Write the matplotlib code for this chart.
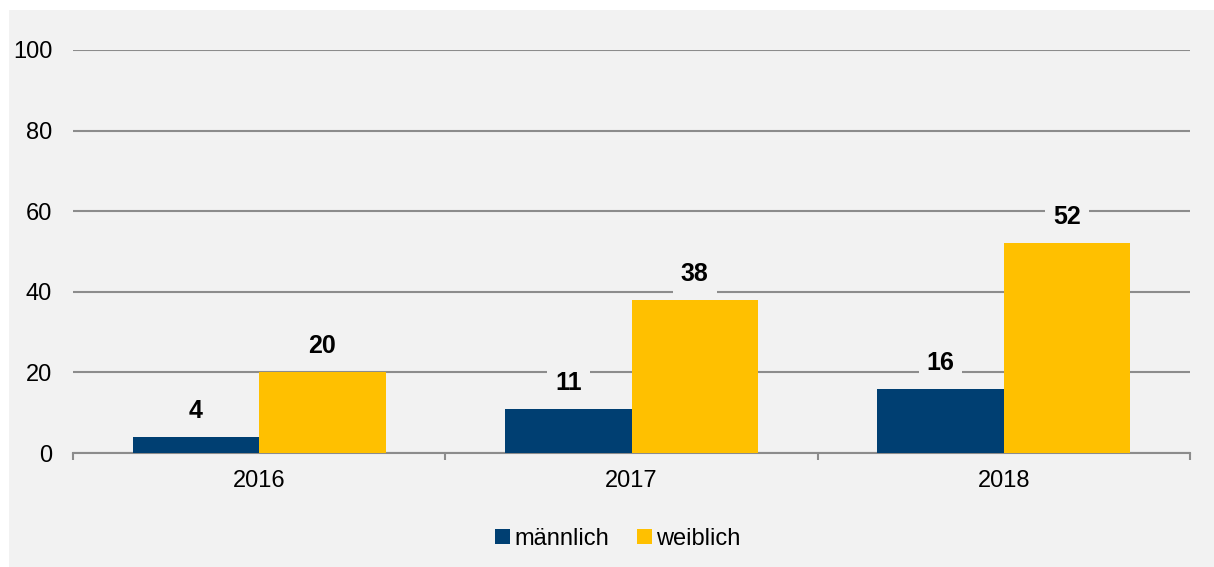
import matplotlib
matplotlib.use("Agg")
import matplotlib.pyplot as plt
from matplotlib.patches import Rectangle
import numpy as np

years = ["2016", "2017", "2018"]
maennlich = [4, 11, 16]
weiblich = [20, 38, 52]
series_names = ["männlich", "weiblich"]
colors = ["#003f72", "#ffc000"]
yticks = [0, 20, 40, 60, 80, 100]

plt.rcParams['font.family'] = ['Liberation Sans', 'DejaVu Sans']

fig = plt.figure(figsize=(12.14, 5.67), dpi=100)
fig.patch.set_facecolor("white")
bg = Rectangle((9/1214, 0), 1 - 9/1214, 1 - 10/567, transform=fig.transFigure,
               facecolor="#f2f2f2", edgecolor="none", zorder=-10)
fig.add_artist(bg)

ax = fig.add_axes([73/1214, 1 - 453/567, (1190 - 73)/1214, (453 - 50)/567])
ax.set_facecolor("none")
ax.set_zorder(1)

x = np.arange(len(years))
w = 0.34
b1 = ax.bar(x - w/2, maennlich, w, color=colors[0], label=series_names[0], zorder=3)
b2 = ax.bar(x + w/2, weiblich, w, color=colors[1], label=series_names[1], zorder=3)

for bars, vals in ((b1, maennlich), (b2, weiblich)):
    for rect, v in zip(bars, vals):
        ax.annotate(str(v), (rect.get_x() + rect.get_width()/2, v),
                    xytext=(0, 26), textcoords="offset pixels",
                    ha="center", va="center", fontsize=18, fontweight="bold",
                    color="black", zorder=5,
                    bbox=dict(boxstyle="square,pad=0.32", facecolor="#f2f2f2",
                              edgecolor="none"))

ax.set_ylim(0, 100)
ax.set_xlim(-0.5, len(years) - 0.5)
ax.set_yticks(yticks)
ax.set_yticklabels([str(t) for t in yticks], fontsize=17)
ax.yaxis.grid(True, color="#8c8c8c", linewidth=1.5, zorder=1)
ax.set_axisbelow(True)
ax.tick_params(axis="y", length=0, pad=15)

ax.set_xticks(np.arange(-0.5, len(years), 1.0))
ax.set_xticklabels([""] * (len(years) + 1))
ax.set_xticks(x, minor=True)
ax.set_xticklabels(years, minor=True, fontsize=17)
ax.tick_params(axis="x", which="major", length=5, width=1.5, color="#8c8c8c")
ax.tick_params(axis="x", which="minor", length=0, pad=12)

for s in ["top", "right", "left"]:
    ax.spines[s].set_visible(False)
ax.spines["bottom"].set_color("#8c8c8c")
ax.spines["bottom"].set_linewidth(1.5)

handles = [Rectangle((0, 0), 1, 1, facecolor=c, edgecolor="none") for c in colors]
fig.legend(handles, series_names, loc="center", bbox_to_anchor=(618/1214, 1 - 539/567),
           ncol=2, frameon=False, fontsize=17, handlelength=0.6, handleheight=0.6,
           handletextpad=0.2, columnspacing=1.2)

fig.savefig("out.png", dpi=100, facecolor=fig.get_facecolor())
